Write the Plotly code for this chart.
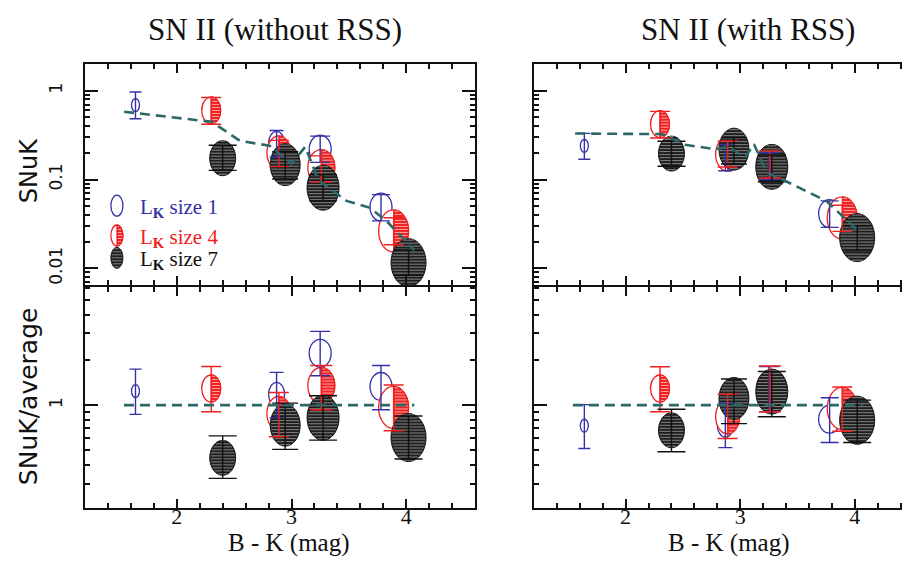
import math
import plotly.graph_objects as go

# ---------------- data ----------------
x_lk1 = [1.64, 2.87, 3.25, 3.78]
x_lk4 = [2.30, 2.89, 3.26, 3.89]
x_lk7 = [2.40, 2.945, 3.275, 4.02]

snuk_norss_lk1 = [0.69, 0.255, 0.22, 0.049]
snuk_norss_lk4 = [0.60, 0.20, 0.136, 0.0264]
snuk_norss_lk7 = [0.174, 0.147, 0.081, 0.0116]
snuk_rss_lk1 = [0.24, 0.177, 0.143, 0.0414]
snuk_rss_lk4 = [0.42, 0.193, 0.149, 0.037]
snuk_rss_lk7 = [0.196, 0.22, 0.139, 0.0222]

ratio_norss_lk1 = [1.24, 1.18, 2.21, 1.33]
ratio_norss_lk4 = [1.29, 0.88, 1.35, 0.965]
ratio_norss_lk7 = [0.446, 0.736, 0.824, 0.609]
ratio_rss_lk1 = [0.73, 0.735, 1.29, 0.806]
ratio_rss_lk4 = [1.29, 0.837, 1.29, 0.95]
ratio_rss_lk7 = [0.68, 1.108, 1.23, 0.794]

# error bar ends as multiplicative factors (upper / lower)
errhi_norss_lk1 = [1.40, 1.40, 1.40, 1.38]
errlo_norss_lk1 = [0.70, 0.70, 0.71, 0.70]
errhi_norss_lk4 = [1.40, 1.38, 1.36, 1.41]
errlo_norss_lk4 = [0.70, 0.70, 0.69, 0.70]
errhi_norss_lk7 = [1.40, 1.40, 1.40, 1.39]
errlo_norss_lk7 = [0.73, 0.69, 0.71, 0.72]
errhi_rss_lk1 = [1.38, 1.40, 1.40, 1.39]
errlo_rss_lk1 = [0.705, 0.71, 0.70, 0.70]
errhi_rss_lk4 = [1.395, 1.41, 1.41, 1.39]
errlo_rss_lk4 = [0.70, 0.717, 0.70, 0.705]
errhi_rss_lk7 = [1.38, 1.345, 1.36, 1.36]
errlo_rss_lk7 = [0.72, 0.68, 0.68, 0.71]

avg_norss_x = [1.54, 2.305, 2.55, 2.81, 3.0, 3.12, 3.235, 3.48, 3.685, 3.83, 4.07]
avg_norss_y = [0.58, 0.447, 0.273, 0.24, 0.151, 0.234, 0.098, 0.0575, 0.048, 0.034, 0.016]
avg_rss_x = [1.56, 2.32, 2.52, 2.78, 2.90, 3.04, 3.12, 3.23, 3.39, 3.75, 4.05]
avg_rss_y = [0.33, 0.325, 0.246, 0.22, 0.234, 0.177, 0.25, 0.12, 0.097, 0.0575, 0.025]
unity_x = [1.54, 4.07]
unity_y = [1.0, 1.0]

x_ticks = [2, 3, 4]
snuk_ticks = [0.01, 0.1, 1]
snuk_ticktext = ["0.01", "0.1", "1"]
ratio_ticks = [1]
ratio_ticktext = ["1"]

titles = ["SN II (without RSS)", "SN II (with RSS)"]
legend_labels = ["size 1", "size 4", "size 7"]

# ---------------- styles ----------------
BLUE = "#3232a6"
RED = "#f02020"
BLACK = "#111111"
TEAL = "#2c6868"
size_lk1 = [(8, 13), (16, 24), (22, 28), (22, 28)]
size_lk4 = [(19, 27), (24, 34), (27, 36), (30, 42)]
size_lk7 = [(26, 35), (30, 42), (32, 45), (35, 48)]
cap_lk1 = [6, 7, 10, 9]
cap_lk4 = [10, 10, 11, 10]
cap_lk7 = [14, 13, 14, 14]

fig = go.Figure()
shapes = []
K = 0.5523


def base(xr, yr, x, y):
    return dict(type="path", xref=xr, yref=yr, xsizemode="pixel", ysizemode="pixel",
                xanchor=x, yanchor=y, layer="below")


def ellipse(xr, yr, x, y, a, b, line_color, fill, lw):
    p = (f"M{a:.2f},0 C{a:.2f},{K*b:.2f} {K*a:.2f},{b:.2f} 0,{b:.2f} "
         f"C{-K*a:.2f},{b:.2f} {-a:.2f},{K*b:.2f} {-a:.2f},0 "
         f"C{-a:.2f},{-K*b:.2f} {-K*a:.2f},{-b:.2f} 0,{-b:.2f} "
         f"C{K*a:.2f},{-b:.2f} {a:.2f},{-K*b:.2f} {a:.2f},0 Z")
    d = base(xr, yr, x, y)
    d.update(path=p, fillcolor=fill, line=dict(color=line_color, width=lw))
    return d


def right_half(xr, yr, x, y, a, b, fill):
    p = (f"M0,{b:.2f} C{K*a:.2f},{b:.2f} {a:.2f},{K*b:.2f} {a:.2f},0 "
         f"C{a:.2f},{-K*b:.2f} {K*a:.2f},{-b:.2f} 0,{-b:.2f} Z")
    d = base(xr, yr, x, y)
    d.update(path=p, fillcolor=fill, line=dict(color=fill, width=1))
    return d


def hatch(xr, yr, x, y, a, b, color, half=False, step=3.0):
    segs = []
    yv = -b + step / 2
    while yv < b:
        hc = a * math.sqrt(max(0.0, 1 - (yv / b) ** 2)) - 0.8
        x0 = 1.0 if half else -hc
        if hc - x0 > 0.5:
            segs.append(f"M{x0:.2f},{yv:.2f} L{hc:.2f},{yv:.2f}")
        yv += step
    d = base(xr, yr, x, y)
    d.update(path=" ".join(segs), fillcolor="rgba(0,0,0,0)",
             line=dict(color=color, width=1))
    return d


def add_sym(kind, xr, yr, x, y, w, h):
    a, b = w / 2, h / 2
    if kind == 1:
        shapes.append(ellipse(xr, yr, x, y, a, b, BLUE, "rgba(0,0,0,0)", 1.3))
    elif kind == 4:
        shapes.append(ellipse(xr, yr, x, y, a, b, RED, "white", 1.3))
        shapes.append(right_half(xr, yr, x, y, a, b, RED))
        shapes.append(hatch(xr, yr, x, y, a, b, "rgba(255,190,190,0.85)", half=True))
    else:
        shapes.append(ellipse(xr, yr, x, y, a, b, "#1a1a1a", "#1e1e1e", 1))
        shapes.append(hatch(xr, yr, x, y, a, b, "rgba(150,150,150,0.85)"))


panels = [
    ("x", "y", [snuk_norss_lk1, snuk_norss_lk4, snuk_norss_lk7], "norss", avg_norss_x, avg_norss_y),
    ("x2", "y2", [snuk_rss_lk1, snuk_rss_lk4, snuk_rss_lk7], "rss", avg_rss_x, avg_rss_y),
    ("x3", "y3", [ratio_norss_lk1, ratio_norss_lk4, ratio_norss_lk7], "norss", unity_x, unity_y),
    ("x4", "y4", [ratio_rss_lk1, ratio_rss_lk4, ratio_rss_lk7], "rss", unity_x, unity_y),
]
errs = {
    "norss": [(errhi_norss_lk1, errlo_norss_lk1), (errhi_norss_lk4, errlo_norss_lk4),
              (errhi_norss_lk7, errlo_norss_lk7)],
    "rss": [(errhi_rss_lk1, errlo_rss_lk1), (errhi_rss_lk4, errlo_rss_lk4),
            (errhi_rss_lk7, errlo_rss_lk7)],
}
xs = [x_lk1, x_lk4, x_lk7]
sizes = [size_lk1, size_lk4, size_lk7]
caps = [cap_lk1, cap_lk4, cap_lk7]
kinds = [1, 4, 7]
cols = [BLUE, RED, BLACK]

for xr, yr, ys, side, lx, ly in panels:
    for g in range(3):
        for i in range(4):
            w, h = sizes[g][i]
            add_sym(kinds[g], xr, yr, xs[g][i], ys[g][i], w, h)
    for g in range(3):
        hi, lo = errs[side][g]
        for i in range(4):
            v = ys[g][i]
            fig.add_trace(go.Scatter(
                x=[xs[g][i]], y=[v], mode="markers", xaxis=xr, yaxis=yr,
                marker=dict(size=1, opacity=0), showlegend=False, hoverinfo="skip",
                error_y=dict(type="data", symmetric=False, array=[v * hi[i] - v],
                             arrayminus=[v - v * lo[i]], width=caps[g][i],
                             thickness=1.4, color=cols[g])))
    fig.add_trace(go.Scatter(x=lx, y=ly, mode="lines", xaxis=xr, yaxis=yr,
                             line=dict(color=TEAL, width=2.6, dash="10px,6px"),
                             showlegend=False, hoverinfo="skip"))

# legend (top-left panel)
leg_y = [0.359, 0.224, 0.123]
leg_col = [BLUE, RED, BLACK]
annotations = []
for j in range(3):
    add_sym(kinds[j], "x domain", "y domain", 0.0818, leg_y[j], 12, 21)
    annotations.append(dict(
        xref="x domain", yref="y domain", x=0.136, y=leg_y[j] - 0.012,
        xanchor="left", yanchor="middle", showarrow=False,
        text="L<sub><b>K</b></sub> " + legend_labels[j],
        font=dict(family="Liberation Serif", size=21, color=leg_col[j])))

# titles and axis labels
L, W, T, H = 77, 833, 56, 444


def px(v):
    return (v - L) / W


def py(v):
    return (T + H - v) / H


for t, cx in zip(titles, [267, 742]):
    annotations.append(dict(xref="paper", yref="paper", x=px(cx), y=py(21),
                            xanchor="center", yanchor="middle", showarrow=False, text=t,
                            font=dict(family="Liberation Serif", size=31, color=BLACK)))
for cx in [281, 723]:
    annotations.append(dict(xref="paper", yref="paper", x=px(cx), y=py(535),
                            xanchor="center", yanchor="middle", showarrow=False,
                            text="B - K (mag)",
                            font=dict(family="Liberation Serif", size=25, color=BLACK)))
annotations.append(dict(xref="paper", yref="paper", x=px(21), y=py(163),
                        xanchor="center", yanchor="middle", showarrow=False, text="SNuK",
                        textangle=-90,
                        font=dict(family="DejaVu Sans", size=24, color=BLACK)))
annotations.append(dict(xref="paper", yref="paper", x=px(20), y=py(388),
                        xanchor="center", yanchor="middle", showarrow=False,
                        text="SNuK/average", textangle=-90,
                        font=dict(family="DejaVu Sans", size=25, color=BLACK)))


def minor_log(lo_dec, hi_dec):
    vals = []
    for d in range(lo_dec, hi_dec + 1):
        for m in range(2, 10):
            vals.append(m * 10 ** d)
    return vals


xax = dict(showline=True, linewidth=2, linecolor=BLACK, mirror="allticks",
           ticks="inside", ticklen=9, tickwidth=1.5, tickcolor=BLACK,
           tickvals=x_ticks, ticktext=[str(v) for v in x_ticks],
           minor=dict(ticks="inside", ticklen=5, tickwidth=1.5, tickcolor=BLACK,
                      dtick=0.2, tick0=0),
           showgrid=False, zeroline=False, ticklabelstandoff=-12,
           tickfont=dict(family="Liberation Serif", size=22, color=BLACK))
yax = dict(type="log", showline=True, linewidth=2, linecolor=BLACK, mirror="allticks",
           ticks="inside", ticklen=13, tickwidth=1.5, tickcolor=BLACK,
           showgrid=False, zeroline=False, tickangle=-90,
           tickfont=dict(family="DejaVu Sans", size=17, color=BLACK))

left_dom = [0, px(468)]
right_dom = [px(527), 1]
right_max = 1.2 + (910 - 527) / 114.9
top_dom = [0.5 + 1.0 / H, 1]
bot_dom = [0, 0.5 - 1.0 / H]

layout = dict(width=910, height=570, margin=dict(l=L, r=0, t=T, b=570 - T - H),
              paper_bgcolor="white", plot_bgcolor="white", showlegend=False,
              shapes=shapes, annotations=annotations)
for name, dom, rng, lab, anc in [("xaxis", left_dom, [1.2, 4.6], False, "y"),
                                  ("xaxis2", right_dom, [1.2, right_max], False, "y2"),
                                  ("xaxis3", left_dom, [1.2, 4.6], True, "y3"),
                                  ("xaxis4", right_dom, [1.2, right_max], True, "y4")]:
    d = dict(xax)
    d.update(domain=dom, range=rng, showticklabels=lab, anchor=anc)
    layout[name] = d

snuk_range = [math.log10(0.0065), math.log10(2.0)]
ratio_range = [math.log10(0.207), math.log10(6.1)]
for name, rng, tv, tt, lab, anc, mv in [
        ("yaxis", snuk_range, snuk_ticks, snuk_ticktext, True, "x", minor_log(-3, 0)),
        ("yaxis2", snuk_range, snuk_ticks, snuk_ticktext, False, "x2", minor_log(-3, 0)),
        ("yaxis3", ratio_range, ratio_ticks, ratio_ticktext, True, "x3", minor_log(-1, 0)),
        ("yaxis4", ratio_range, ratio_ticks, ratio_ticktext, False, "x4", minor_log(-1, 0))]:
    d = dict(yax)
    d.update(domain=top_dom if name in ("yaxis", "yaxis2") else bot_dom,
             range=rng, tickvals=tv, ticktext=tt, showticklabels=lab, anchor=anc,
             ticklabelstandoff=14,
             minor=dict(ticks="inside", ticklen=5, tickwidth=1.5, tickcolor=BLACK,
                        tickvals=mv))
    layout[name] = d

fig.update_layout(**layout)
fig.write_html("out.html")
